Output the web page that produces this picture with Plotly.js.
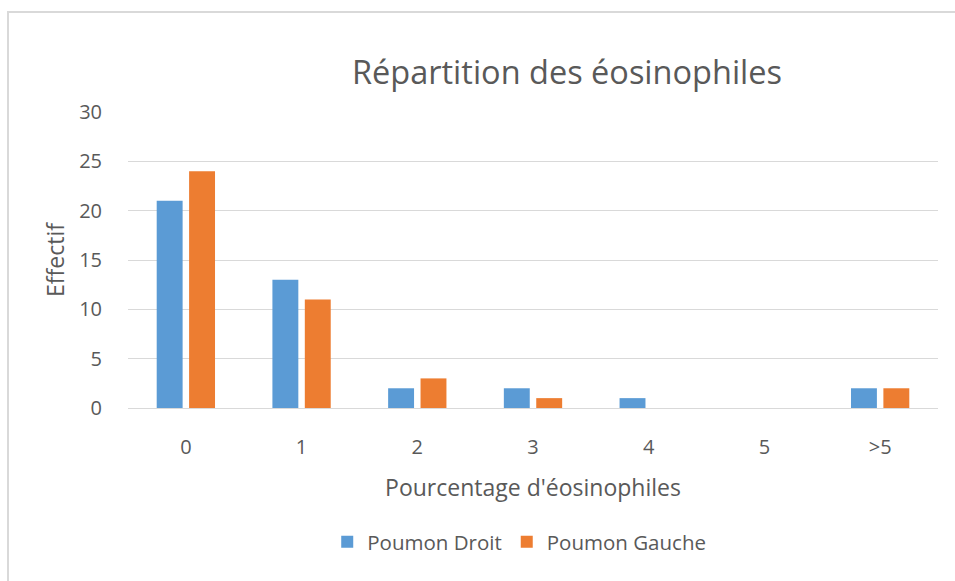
<!DOCTYPE html>
<html>
<head>
<meta charset="utf-8">
<script src="https://cdn.plot.ly/plotly-3.0.1.min.js"></script>
<style>
html,body{margin:0;padding:0;background:#fff;}
#frame{position:absolute;left:7px;top:11px;width:1000px;height:700px;border:2px solid #d9d9d9;box-sizing:border-box;}
#chart{position:absolute;left:0;top:0;width:955px;height:581px;}
</style>
</head>
<body>
<div id="frame"></div>
<div id="chart"></div>
<script>
const categories = ['0', '1', '2', '3', '4', '5', '>5'];
const poumonDroit = [21, 13, 2, 2, 1, 0, 2];
const poumonGauche = [24, 11, 3, 1, 0, 0, 2];
const yTicks = [0, 5, 10, 15, 20, 25, 30];

const font = '"Open Sans", sans-serif';
const textColor = '#595959';

const data = [
  {type: 'bar', name: 'Poumon Droit', x: categories, y: poumonDroit, marker: {color: '#5b9bd5'}},
  {type: 'bar', name: 'Poumon Gauche', x: categories, y: poumonGauche, marker: {color: '#ed7d31'}}
];

const layout = {
  width: 955, height: 581,
  paper_bgcolor: 'rgba(0,0,0,0)', plot_bgcolor: 'rgba(0,0,0,0)',
  margin: {l: 128, r: 17, t: 112, b: 173},
  barmode: 'group', bargap: 0.44, bargroupgap: 0.2,
  font: {family: font, color: textColor, size: 20},
  title: {text: 'Répartition des éosinophiles', font: {size: 32.5, color: textColor, family: font},
          x: 0.542, xref: 'paper', xanchor: 'center', y: 1 - 73/581, yref: 'container', yanchor: 'middle'},
  xaxis: {
    type: 'category', showgrid: false, zeroline: false,
    showline: true, linecolor: '#d9d9d9', linewidth: 1,
    ticks: 'outside', ticklen: 21, tickcolor: 'rgba(0,0,0,0)',
    tickfont: {size: 20, color: textColor},
    title: {text: "Pourcentage d'éosinophiles", font: {size: 23, color: textColor}, standoff: 20},
    automargin: false
  },
  yaxis: {
    range: [0, 30], tickvals: yTicks, showgrid: true, gridcolor: '#d9d9d9', gridwidth: 1,
    zeroline: true, zerolinecolor: '#d9d9d9', zerolinewidth: 1,
    ticks: 'outside', ticklen: 21, tickcolor: 'rgba(0,0,0,0)',
    tickfont: {size: 20, color: textColor},
    title: {text: 'Effectif', font: {size: 23, color: textColor}, standoff: 8},
    automargin: false
  },
  showlegend: true,
  legend: {orientation: 'h', x: 0.483, xanchor: 'center', y: (408-542)/296, yanchor: 'middle',
           font: {size: 20.5, color: textColor}, traceorder: 'normal', itemwidth: 30},
  hovermode: false
};

Plotly.newPlot('chart', data, layout, {displayModeBar: false, staticPlot: true});
</script>
</body>
</html>
